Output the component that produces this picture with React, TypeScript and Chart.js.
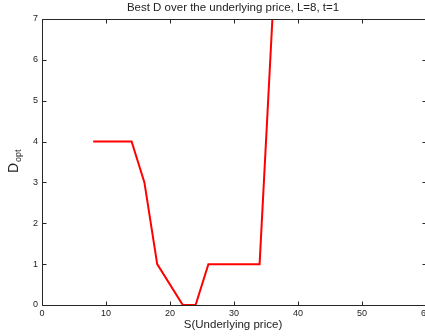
import React, { useEffect, useRef } from "react";
import { Chart, registerables } from "chart.js";

Chart.register(...registerables);

const sValues = [8, 14, 16, 18, 22, 24, 26, 34, 36];
const dOpt = [4, 4, 3, 1, 0, 0, 1, 1, 7];
const xTicks = [0, 10, 20, 30, 40, 50, 60];
const yTicks = [0, 1, 2, 3, 4, 5, 6, 7];
const titleText = "Best D over the underlying price, L=8, t=1";
const xLabel = "S(Underlying price)";

const FONT = "'Liberation Sans', Arial, sans-serif";

const framePlugin = {
  id: "matlabFrame",
  afterDraw(chart: any) {
    const { ctx, chartArea } = chart;
    const { left, right, top, bottom } = chartArea;
    const xs = chart.scales.x;
    const ys = chart.scales.y;
    ctx.save();
    ctx.strokeStyle = "#262626";
    ctx.lineWidth = 1;
    const L = Math.round(left) + 0.5;
    const B = Math.round(bottom) + 0.5;
    const T = Math.round(top) + 0.5;
    const R = Math.round(right) + 0.5;
    ctx.beginPath();
    ctx.moveTo(L, T);
    ctx.lineTo(L, B);
    ctx.lineTo(R, B);
    ctx.lineTo(R, T);
    ctx.closePath();
    ctx.stroke();
    const tl = 4;
    ctx.beginPath();
    xTicks.forEach((v) => {
      const px = Math.round(xs.getPixelForValue(v)) + 0.5;
      ctx.moveTo(px, B);
      ctx.lineTo(px, B - tl);
      ctx.moveTo(px, T);
      ctx.lineTo(px, T + tl);
    });
    yTicks.forEach((v) => {
      const py = Math.round(ys.getPixelForValue(v)) + 0.5;
      ctx.moveTo(L, py);
      ctx.lineTo(L + tl, py);
      ctx.moveTo(R, py);
      ctx.lineTo(R - tl, py);
    });
    ctx.stroke();

    const cx = (left + right) / 2;
    ctx.fillStyle = "#222";
    ctx.textAlign = "center";
    ctx.textBaseline = "middle";
    ctx.font = `11.5px ${FONT}`;
    ctx.fillText(titleText, cx - 1, 8);
    ctx.fillText(xLabel, cx - 1, 325);

    // y label D_opt rotated
    ctx.save();
    ctx.translate(18, 168);
    ctx.rotate(-Math.PI / 2);
    ctx.textAlign = "left";
    ctx.textBaseline = "alphabetic";
    ctx.font = `14px ${FONT}`;
    ctx.fillText("D", -5, 0);
    const dw = ctx.measureText("D").width;
    ctx.font = `9px ${FONT}`;
    ctx.fillText("opt", -5 + dw + 1, 3);
    ctx.restore();

    ctx.restore();
  },
};

export default function App() {
  const ref = useRef<HTMLCanvasElement>(null);
  useEffect(() => {
    document.body.style.margin = "0";
    const canvas = ref.current!;
    const chart = new Chart(canvas, {
      type: "line",
      data: {
        datasets: [
          {
            data: sValues.map((s, i) => ({ x: s, y: dOpt[i] })),
            borderColor: "rgb(255,0,0)",
            borderWidth: 2,
            pointRadius: 0,
            tension: 0,
            fill: false,
          },
        ],
      },
      options: {
        animation: false,
        responsive: false,
        devicePixelRatio: 1,
        layout: { padding: { top: 19, right: 14, left: 0, bottom: 0 } },
        plugins: {
          legend: { display: false },
          title: { display: false },
          tooltip: { enabled: false },
        },
        scales: {
          x: {
            type: "linear",
            min: 0,
            max: 60,
            grid: { display: false, drawTicks: false },
            border: { display: false },
            ticks: {
              stepSize: 10,
              padding: 3,
              color: "#222",
              font: { size: 9, family: FONT },
              maxRotation: 0,
            },
            afterFit: (s: any) => {
              s.height = 31;
            },
          },
          y: {
            type: "linear",
            min: 0,
            max: 7,
            grid: { display: false, drawTicks: false },
            border: { display: false },
            ticks: {
              stepSize: 1,
              padding: 4,
              color: "#222",
              font: { size: 9, family: FONT },
            },
            afterFit: (s: any) => {
              s.width = 42;
            },
          },
        },
      },
      plugins: [framePlugin],
    });
    return () => chart.destroy();
  }, []);
  return (
    <div style={{ width: 425, height: 336, overflow: "hidden", background: "#fff" }}>
      <canvas ref={ref} width={440} height={336} style={{ display: "block" }} />
    </div>
  );
}
